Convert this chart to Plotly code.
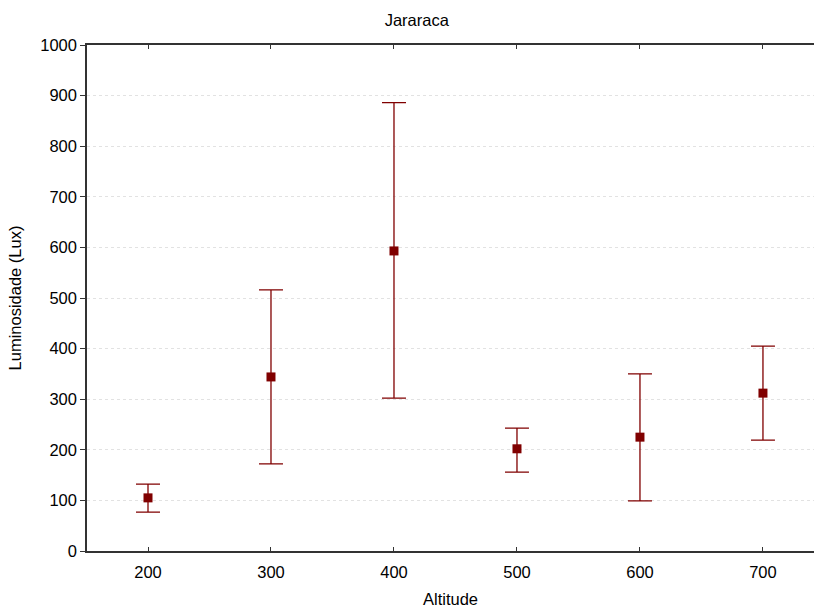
import plotly.graph_objects as go

altitude = [200, 300, 400, 500, 600, 700]
mean_lux = [105, 344, 593, 202, 225, 312]
upper_lux = [132, 516, 886, 243, 350, 405]
lower_lux = [77, 172, 302, 156, 99, 219]

err_plus = [u - m for u, m in zip(upper_lux, mean_lux)]
err_minus = [m - l for m, l in zip(mean_lux, lower_lux)]

color = "#800000"
font = "Liberation Sans, Arial, sans-serif"
fs = 16.5

fig = go.Figure()
fig.add_trace(go.Scatter(
    x=altitude, y=mean_lux, mode="markers",
    marker=dict(symbol="square", size=9, color=color),
    error_y=dict(type="data", symmetric=False, array=err_plus, arrayminus=err_minus,
                 color=color, thickness=1.3, width=12),
    showlegend=False,
))

fig.update_layout(
    width=814, height=608,
    margin=dict(l=87, r=0, t=45, b=57),
    paper_bgcolor="white", plot_bgcolor="white",
    font=dict(family=font, size=fs, color="black"),
    title=dict(text="Jararaca", x=0.512, xref="container", y=0.967, yref="container",
               xanchor="center", yanchor="middle", font=dict(size=fs)),
    xaxis=dict(
        range=[150.4, 741.5], tickvals=altitude, ticktext=[str(a) for a in altitude],
        showline=True, linecolor="#333", linewidth=1.5, mirror="ticks",
        ticks="inside", ticklen=4, tickcolor="#333", showgrid=False, zeroline=False,
        ticklabelstandoff=5, automargin=False,
        title=dict(text="Altitude", font=dict(size=fs), standoff=20),
    ),
    yaxis=dict(
        range=[0, 1000], dtick=100,
        showline=True, linecolor="#333", linewidth=1.5,
        ticks="outside", ticklen=5, tickcolor="#333",
        showgrid=True, gridcolor="#e2e2e2", griddash="dot", gridwidth=1,
        zeroline=False, automargin=False,
        title=dict(text="Luminosidade (Lux)", font=dict(size=fs), standoff=14),
    ),
)

fig.write_html("out.html")
